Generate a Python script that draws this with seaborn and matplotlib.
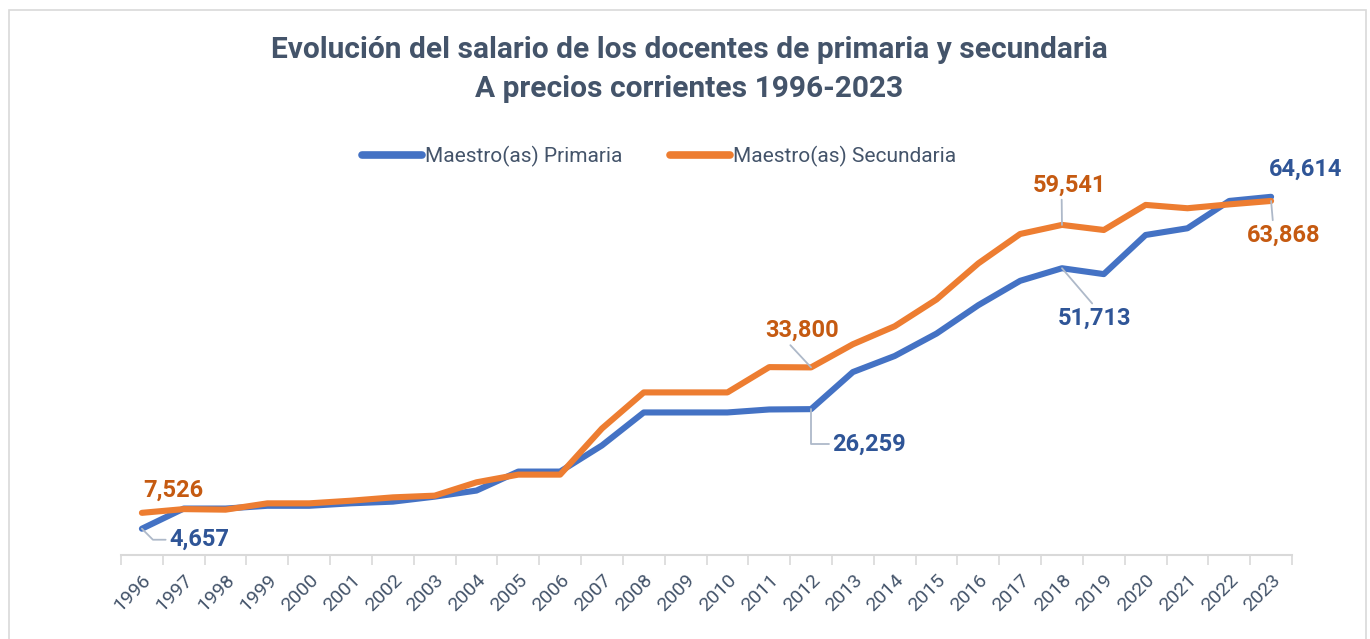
import numpy as np
import pandas as pd
import matplotlib
matplotlib.use("Agg")
import matplotlib.pyplot as plt
import seaborn as sns
from matplotlib.patches import Rectangle
from matplotlib.lines import Line2D

years = [str(y) for y in range(1996, 2024)]
primaria = [4657, 8300, 8300, 8800, 8800, 9250, 9550, 10450, 11550, 14980, 14980,
            19700, 25660, 25660, 25660, 26200, 26259, 32960, 35860, 39910, 45040,
            49440, 51713, 50650, 57720, 58930, 63870, 64614]
secundaria = [7526, 8200, 8100, 9240, 9240, 9720, 10320, 10630, 13040, 14430, 14430,
              22760, 29280, 29280, 29280, 33850, 33800, 37980, 41230, 46070, 52590,
              57900, 59541, 58620, 63150, 62550, 63250, 63868]
series_names = ["Maestro(as) Primaria", "Maestro(as) Secundaria"]

title_lines = ["Evolución del salario de los docentes de primaria y secundaria",
               "A precios corrientes 1996-2023"]

sns.set_theme(style="white")
plt.rcParams['font.family'] = ['Roboto', 'DejaVu Sans']

df = pd.DataFrame({
    "idx": list(range(len(years))) * 2,
    "valor": primaria + secundaria,
    "serie": [series_names[0]] * len(years) + [series_names[1]] * len(years),
})

blue = "#4472C4"
orange = "#ED7D31"
blue_lbl = "#2F5597"
orange_lbl = "#C55A11"
txt = "#44546A"
lead = "#AEB9C9"

fig = plt.figure(figsize=(13.7, 6.39), dpi=100)
ax = fig.add_axes([121/1370, 1 - 554.5/639, (1292-121)/1370, (554.5-167)/639])

sns.lineplot(data=df, x="idx", y="valor", hue="serie", palette=[blue, orange],
             linewidth=4.4, ax=ax, legend=False, sort=False)
for l in ax.lines:
    l.set_solid_joinstyle("round")
    l.set_solid_capstyle("round")

ax.set_xlim(-0.5, len(years) - 0.5)
ax.set_ylim(0, 70000)
ax.set_xlabel("")
ax.set_ylabel("")
ax.set_yticks([])
ax.set_xticks(range(len(years)))
ax.set_xticklabels(years, rotation=45, ha="right", rotation_mode="anchor",
                   fontsize=14, color=txt)
ax.set_xticks(np.arange(-0.5, len(years)), minor=True)
ax.tick_params(axis="x", which="major", length=0, pad=12)
ax.tick_params(axis="x", which="minor", length=7, color="#D9D9D9", width=1.2, bottom=True)
for s in ["top", "right", "left"]:
    ax.spines[s].set_visible(False)
ax.spines["bottom"].set_color("#D9D9D9")
ax.spines["bottom"].set_linewidth(1.5)

# Legend
handles = [Line2D([0], [0], color=blue, lw=5.5, solid_capstyle="round"),
           Line2D([0], [0], color=orange, lw=5.5, solid_capstyle="round")]
fig.legend(handles, series_names, loc="center", bbox_to_anchor=(659/1370, 1 - 156/639),
           ncol=2, frameon=False, fontsize=15, labelcolor=txt, handlelength=2.9,
           handletextpad=0.12, columnspacing=2.3)

fig.text(689/1370, 1 - 50/639, title_lines[0], ha="center", va="center",
         fontsize=21.5, fontweight="bold", color=txt)
fig.text(689/1370, 1 - 89/639, title_lines[1], ha="center", va="center",
         fontsize=21.5, fontweight="bold", color=txt)

# Data labels (offsets in pixels)
def label(i, vals, color, dx, dy, leader=None):
    v = vals[i]
    kw = {}
    if leader is not None:
        kw["arrowprops"] = dict(arrowstyle="-", color=lead, lw=1.3,
                                shrinkA=0, shrinkB=0, relpos=leader[0],
                                connectionstyle=leader[1])
    ax.annotate(f"{v:,}", xy=(i, v), xytext=(dx, dy), textcoords="offset pixels",
                ha="center", va="center", fontsize=17, fontweight="bold",
                color=color, **kw)

label(0, secundaria, orange_lbl, 31, 23)
label(0, primaria, blue_lbl, 57, -11, ((0, 0.5), "angle,angleA=0,angleB=-45,rad=0"))
label(16, primaria, blue_lbl, 58, -35, ((0, 0.5), "angle,angleA=0,angleB=90,rad=0"))
label(16, secundaria, orange_lbl, -9, 37, ((0.3, 0.0), "arc3"))
label(22, secundaria, orange_lbl, 7, 40, ((0.4, 0.0), "arc3"))
label(22, primaria, blue_lbl, 33, -50, ((0.5, 1.0), "arc3"))
label(27, primaria, blue_lbl, 34, 28)
label(27, secundaria, orange_lbl, 13, -34, ((0.35, 1.0), "arc3"))

# Chart border
fig.patches.append(Rectangle((9/1370, -0.02), (1366-9)/1370, 1 - 10/639 + 0.02,
                             transform=fig.transFigure, fill=False,
                             edgecolor="#D9D9D9", lw=1.2))

fig.savefig("out.png", dpi=100, facecolor="white")
